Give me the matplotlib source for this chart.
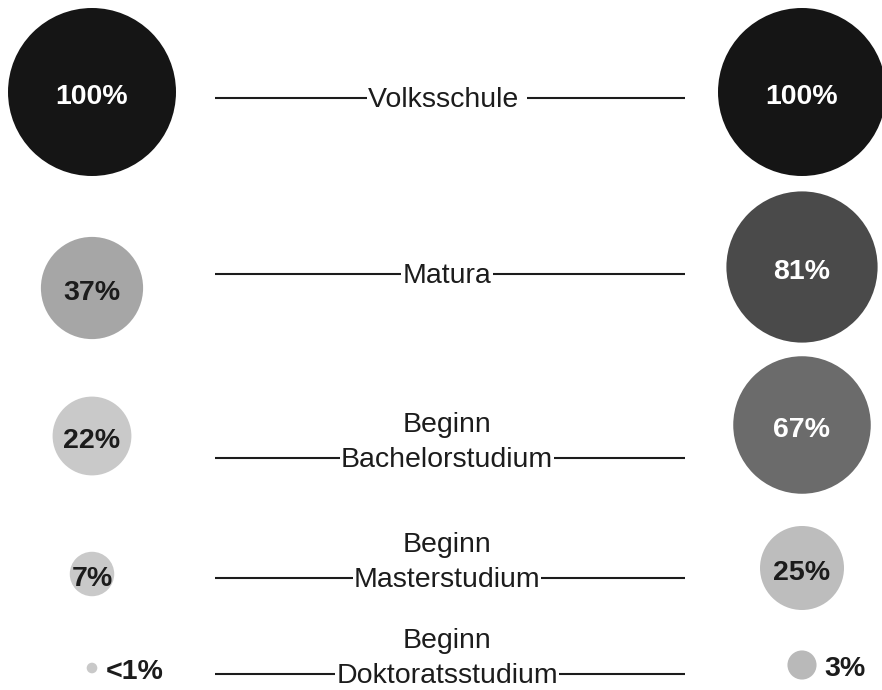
import numpy as np
import matplotlib

matplotlib.use("Agg")
import matplotlib.pyplot as plt
from matplotlib.patches import Circle

plt.rcParams["font.family"] = ["Liberation Sans", "DejaVu Sans"]

# Bildungsweg: Anteil der Kinder (links / rechts)
STAGES = ["Volksschule ", "Matura", "Beginn\nBachelorstudium",
          "Beginn\nMasterstudium", "Beginn\nDoktoratsstudium"]
LEFT_VALS = [100, 37, 22, 7, 0.4]
LEFT_LABELS = ["100%", "37%", "22%", "7%", "<1%"]
RIGHT_VALS = [100, 81, 67, 25, 3]
RIGHT_LABELS = ["100%", "81%", "67%", "25%", "3%"]

LEFT_COLORS = ["#151515", "#a6a6a6", "#c9c9c9", "#c9c9c9", "#c9c9c9"]
RIGHT_COLORS = ["#151515", "#4a4a4a", "#6b6b6b", "#bdbdbd", "#b9b9b9"]

# layout (pixel coordinates, y downwards)
W, H = 882, 690
LX, RX = 92, 802
R100 = 84
LINE_Y = [98, 274, 458, 578, 674]
LEFT_CY = [92, 288, 436, 574, 668]
RIGHT_CY = [92, 267, 425, 568, 665]
LINE_X0, LINE_X1, TEXT_X = 215, 685, 447
FS = 20.5
INK = "#1c1c1c"

fig = plt.figure(figsize=(W / 100, H / 100), dpi=100)
ax = fig.add_axes([0, 0, 1, 1])
ax.set_xlim(0, W)
ax.set_ylim(H, 0)
ax.axis("off")


def bubble(cx, cy, val, label, color):
    r = R100 * np.sqrt(val / 100)
    ax.add_patch(Circle((cx, cy), r, facecolor=color, edgecolor="none", zorder=2))
    dark = np.mean(matplotlib.colors.to_rgb(color)) < 0.5
    if r < 20:
        ax.text(cx + r + 8, cy + 11, label, ha="left", va="baseline",
                fontsize=FS, fontweight="bold", color=INK, zorder=3)
    else:
        ax.text(cx, cy + 12, label, ha="center", va="baseline",
                fontsize=FS, fontweight="bold",
                color="white" if dark else INK, zorder=3)


for i, stage in enumerate(STAGES):
    bubble(LX, LEFT_CY[i], LEFT_VALS[i], LEFT_LABELS[i], LEFT_COLORS[i])
    bubble(RX, RIGHT_CY[i], RIGHT_VALS[i], RIGHT_LABELS[i], RIGHT_COLORS[i])

    y = LINE_Y[i]
    ax.plot([LINE_X0, LINE_X1], [y, y], color=INK, lw=1.5, zorder=1,
            solid_capstyle="butt")
    parts = stage.split("\n")
    ax.text(TEXT_X, y + 9, parts[-1], ha="center", va="baseline",
            fontsize=FS, color=INK, zorder=2,
            bbox=dict(facecolor="white", edgecolor="none", pad=0.8))
    if len(parts) > 1:
        ax.text(TEXT_X, y + 9 - 35, parts[0], ha="center", va="baseline",
                fontsize=FS, color=INK, zorder=2)

fig.savefig("out.png", dpi=100, facecolor="white")
